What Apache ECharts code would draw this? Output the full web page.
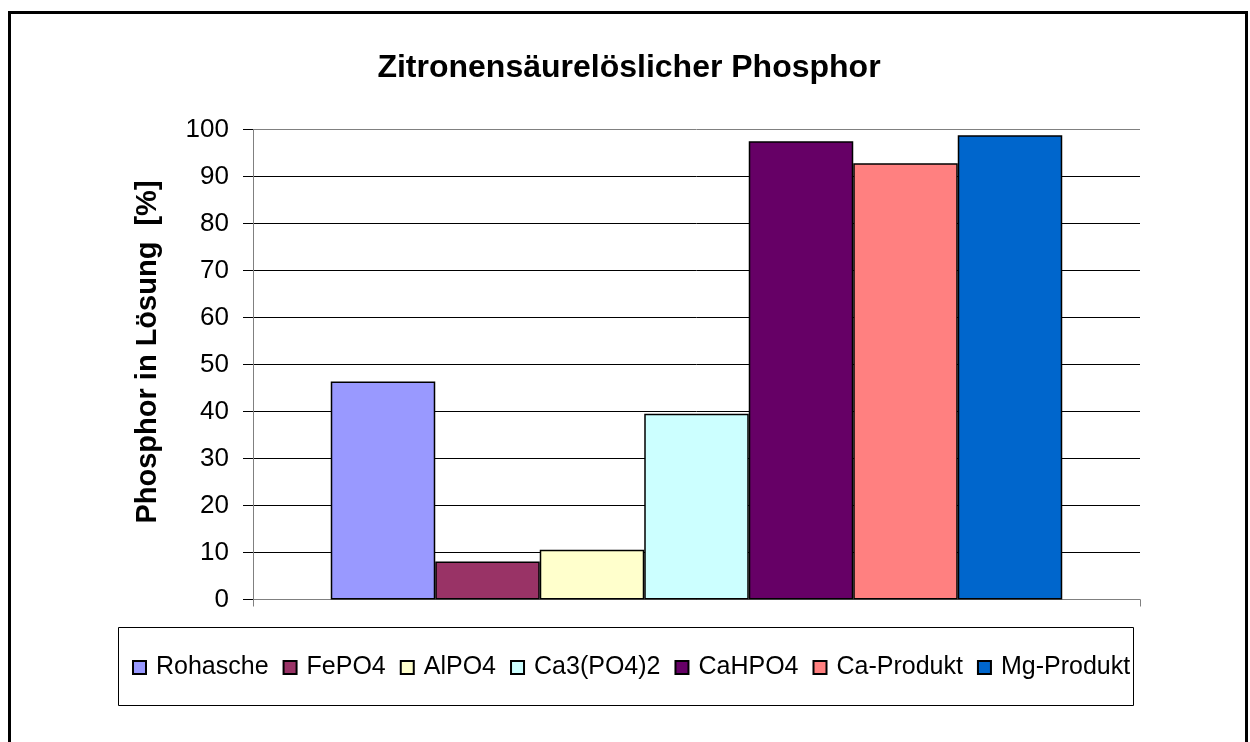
<!DOCTYPE html>
<html>
<head>
<meta charset="utf-8">
<style>
  html, body { margin: 0; padding: 0; background: #fff; }
  #chart { width: 1250px; height: 742px; }
</style>
<script src="https://cdn.jsdelivr.net/npm/echarts@6/dist/echarts.min.js"></script>
</head>
<body>
<div id="chart"></div>
<script>
// Citric-acid soluble phosphorus per sample, percent in solution
const seriesNames = ['Rohasche', 'FePO4', 'AlPO4', 'Ca3(PO4)2', 'CaHPO4', 'Ca-Produkt', 'Mg-Produkt'];
const seriesValues = [46.4, 8.1, 10.6, 39.5, 97.5, 92.8, 98.8];
const seriesColors = ['#9999FF', '#993366', '#FFFFCC', '#CCFFFF', '#660066', '#FF8080', '#0066CC'];
const categories = [''];
const yTicks = { min: 0, max: 100, interval: 10 };

const FONT = 'Arial, "Liberation Sans", sans-serif';

const chart = echarts.init(document.getElementById('chart'), null, { renderer: 'canvas' });

// split lines: black inside, the top one doubles as the grey plot frame
const splitColors = [];
for (let v = yTicks.min; v <= yTicks.max; v += yTicks.interval) {
  splitColors.push(v === yTicks.max ? '#808080' : '#000000');
}

const series = seriesNames.map((name, i) => ({
  name: name,
  type: 'bar',
  data: [seriesValues[i]],
  barWidth: 104.5,
  barGap: '0%',
  itemStyle: { color: seriesColors[i], borderColor: '#000000', borderWidth: 1.5 },
  emphasis: { disabled: true },
  animation: false
}));

chart.setOption({
  backgroundColor: '#ffffff',
  animation: false,
  title: {
    text: 'Zitronensäurelöslicher Phosphor',
    left: 624,
    top: 47,
    textAlign: 'center',
    textStyle: { fontFamily: FONT, fontSize: 32, fontWeight: 'bold', color: '#000' }
  },
  grid: { left: 253, right: 110, top: 129.5, bottom: 142.5, containLabel: false },
  xAxis: {
    type: 'category',
    data: categories,
    boundaryGap: true,
    axisLine: { show: true, lineStyle: { color: '#808080', width: 1 } },
    axisTick: { show: true, length: 7, lineStyle: { color: '#808080' } },
    axisLabel: { show: false },
    splitLine: { show: false }
  },
  yAxis: {
    type: 'value',
    min: yTicks.min,
    max: yTicks.max,
    interval: yTicks.interval,
    axisLine: { show: true, lineStyle: { color: '#808080', width: 1 } },
    axisTick: { show: true, length: 10, lineStyle: { color: '#000000' } },
    axisLabel: { margin: 24, fontFamily: FONT, fontSize: 26, color: '#000' },
    splitLine: { show: true, lineStyle: { color: splitColors, width: 1 } }
  },
  legend: {
    data: seriesNames,
    left: 127,
    top: 650,
    orient: 'horizontal',
    icon: 'rect',
    itemWidth: 13,
    itemHeight: 13,
    itemGap: 14,
    selectedMode: false,
    textStyle: { fontFamily: FONT, fontSize: 25, color: '#000', padding: [0, 0, 0, 5] }
  },
  graphic: [
    {
      type: 'rect',
      shape: { x: 9.5, y: 12.5, width: 1237, height: 740 },
      style: { fill: null, stroke: '#000', lineWidth: 3 },
      silent: true
    },
    {
      type: 'rect',
      shape: { x: 118.5, y: 627.5, width: 1015, height: 78 },
      style: { fill: null, stroke: '#000', lineWidth: 1 },
      silent: true,
      z: -1
    },
    {
      type: 'text',
      x: 148,
      y: 352,
      rotation: Math.PI / 2,
      style: {
        text: 'Phosphor in Lösung  [%]',
        fontFamily: FONT,
        fontSize: 29,
        fontWeight: 'bold',
        fill: '#000',
        textAlign: 'center',
        textVerticalAlign: 'middle'
      },
      silent: true
    }
  ],
  series: series
});
</script>
</body>
</html>
